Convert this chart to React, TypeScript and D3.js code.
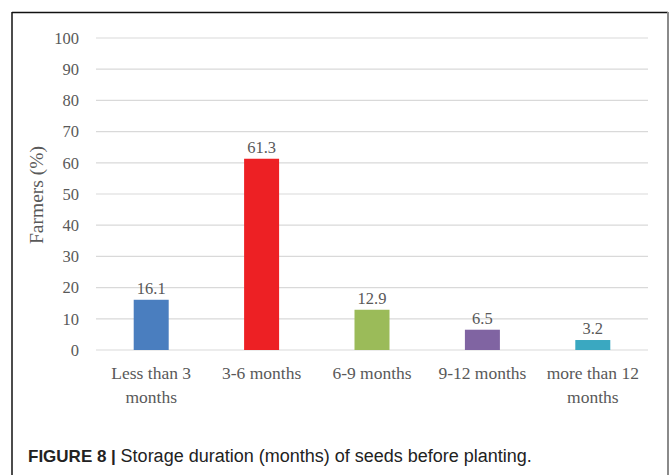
import React from "react";
import * as d3 from "d3";

const categories = ["Less than 3 months", "3-6 months", "6-9 months", "9-12 months", "more than 12 months"];
const labelLines = [["Less than 3", "months"], ["3-6 months"], ["6-9 months"], ["9-12 months"], ["more than 12", "months"]];
const values = [16.1, 61.3, 12.9, 6.5, 3.2];
const colors = ["#4a7ebf", "#ed2024", "#9bbb59", "#8064a2", "#3aa8c1"];
const yTicks = [0, 10, 20, 30, 40, 50, 60, 70, 80, 90, 100];

const W = 671, H = 475;
const left = 96, right = 648, top = 38, bottom = 350;

export default function App() {
  const x = d3.scaleBand<string>().domain(categories).range([left, right]).paddingInner(0.683).paddingOuter(0.3415);
  const y = d3.scaleLinear().domain([0, 100]).range([bottom, top]);
  const serif = "'Liberation Serif', 'Times New Roman', serif";
  const gray = "#595959";
  return (
    <svg width={W} height={H} style={{ position: "absolute", left: 0, top: 0, background: "#fff" }}>
      <rect x={0} y={0} width={W} height={H} fill="#fff" />
      {/* frame */}
      <line x1={12} y1={12.5} x2={668} y2={12.5} stroke="#111" strokeWidth={1.5} />
      <line x1={12} y1={12} x2={12} y2={H} stroke="#111" strokeWidth={1.5} />
      <line x1={668} y1={12} x2={668} y2={H} stroke="#8a8a8a" strokeWidth={2} />
      {/* gridlines */}
      {yTicks.map((t) => (
        <g key={t}>
          <line x1={left} x2={right} y1={y(t)} y2={y(t)} stroke="#d9d9d9" strokeWidth={1.2} />
          <text x={79} y={y(t)} dy="0.35em" textAnchor="end" fontFamily={serif} fontSize={16.5} fill={gray}>
            {t}
          </text>
        </g>
      ))}
      {/* bars */}
      {categories.map((c, i) => (
        <g key={c}>
          <rect x={x(c)} y={y(values[i])} width={x.bandwidth()} height={y(0) - y(values[i])} fill={colors[i]} />
          <text x={(x(c) as number) + x.bandwidth() / 2} y={y(values[i]) - 6} textAnchor="middle" fontFamily={serif} fontSize={16.5} fill={gray}>
            {values[i]}
          </text>
          {labelLines[i].map((ln, j) => (
            <text key={j} x={(x(c) as number) + x.bandwidth() / 2} y={379 + j * 24} textAnchor="middle" fontFamily={serif} fontSize={17.5} fill={gray}>
              {ln}
            </text>
          ))}
        </g>
      ))}
      {/* y title */}
      <text transform={`translate(43,195) rotate(-90)`} textAnchor="middle" fontFamily={serif} fontSize={19.5} fill={gray}>
        Farmers (%)
      </text>
      {/* caption */}
      <text x={28} y={462} fontFamily="'Liberation Sans', Arial, sans-serif" fill="#222">
        <tspan fontWeight="bold" fontSize={17}>FIGURE 8 | </tspan>
        <tspan fontSize={18}>Storage duration (months) of seeds before planting.</tspan>
      </text>
    </svg>
  );
}
